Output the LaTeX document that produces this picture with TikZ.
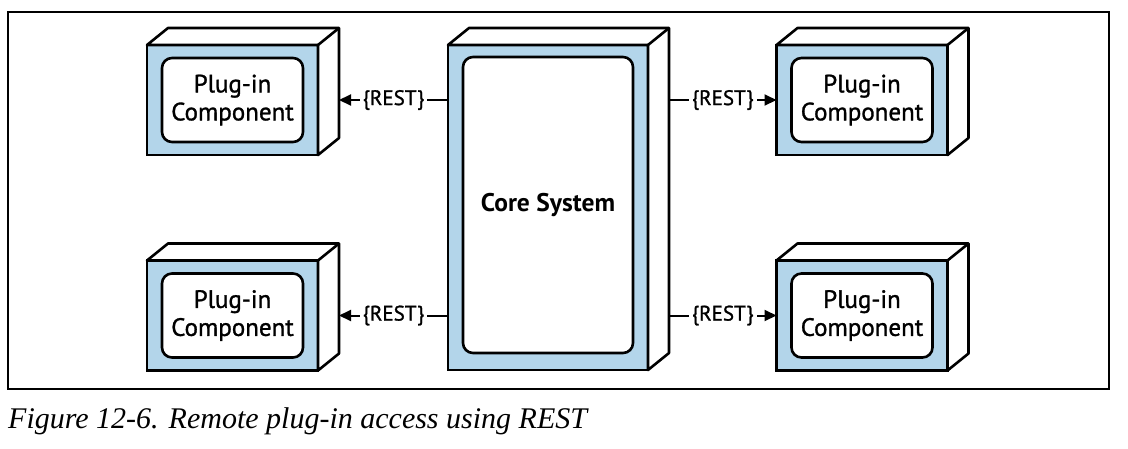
\documentclass[tikz,border=0pt]{standalone}
\usepackage{fontspec}
\setsansfont{PT Sans}
\newfontfamily\diafont{PT Sans}[FakeBold=1.2]
\setmainfont{Liberation Serif}
\usetikzlibrary{arrows.meta}

\definecolor{plugblue}{RGB}{179,213,234}
\newcommand\plugfont{\diafont\fontsize{25}{28}\selectfont}
\newcommand\restfont{\diafont\fontsize{21}{24}\selectfont}
\newcommand\corefont{\sffamily\bfseries\fontsize{25.5}{28}\selectfont}
\newcommand\capfont{\rmfamily\itshape\fontsize{30}{32}\selectfont}

% front face, inner panel and the two faces seen in depth
\newcommand\boxdepth[1]{%
  \draw[depth] (#1.north west) -- ++(21,-17) -- ([shift={(21,-17)}]#1.north east) -- ([shift={(21,-17)}]#1.south east) -- (#1.south east) -- (#1.north east) -- cycle;
  \draw[depth] (#1.north east) -- ++(21,-17);
}

\tikzset{
  front/.style={draw, line width=2.6pt, fill=plugblue, inner sep=0pt, outer sep=0pt, minimum width=171pt, minimum height=110pt},
  panel/.style={draw, line width=2.6pt, fill=white, rounded corners=10pt, inner sep=0pt, minimum width=141pt, minimum height=84pt, align=center, font=\plugfont},
  depth/.style={draw, line width=2.6pt, fill=white, line join=round},
  rest/.style={fill=white, inner sep=3pt, font=\restfont},
  link/.style={line width=2pt, -{Triangle[length=12pt,width=11pt]}},
}

\begin{document}
\begin{tikzpicture}[x=1pt,y=1pt,yscale=-1,xscale=1]
  \useasboundingbox (0,0) rectangle (1128,448);
  \draw[line width=1.3pt] (8,12) rectangle (1109,389);

  % plug-in components
  \node[front] (tl) at (232.5,100) {};
  \node[front] (bl) at (232.5,315.5) {};
  \node[front] (tr) at (862,100) {};
  \node[front] (br) at (862,315.5) {};
  \boxdepth{tl}
  \boxdepth{bl}
  \boxdepth{tr}
  \boxdepth{br}
  \node[panel] (tl-in) at (tl) {Plug-in\\Component};
  \node[panel] (bl-in) at (bl) {Plug-in\\Component};
  \node[panel] (tr-in) at (tr) {Plug-in\\Component};
  \node[panel] (br-in) at (br) {Plug-in\\Component};

  % core system
  \node[front, minimum width=200pt, minimum height=325pt] (core) at (548,207.5) {};
  \boxdepth{core}
  \node[panel, minimum width=170pt, minimum height=296pt, font=\corefont] (core-in) at (548,205) {Core System};

  % rest links
  \coordinate (tl-back) at ([xshift=21pt]tl.east);
  \coordinate (bl-back) at ([xshift=21pt]bl.east);
  \coordinate (core-back) at ([xshift=21pt]core.east);
  \draw[link] (core.west |- tl-back) -- node[rest] (rest-tl) {\{REST\}} (tl-back);
  \draw[link] (core.west |- bl-back) -- node[rest] (rest-bl) {\{REST\}} (bl-back);
  \draw[link] (core-back |- tr) -- node[rest] (rest-tr) {\{REST\}} (tr.west);
  \draw[link] (core-back |- br) -- node[rest] (rest-br) {\{REST\}} (br.west);

  \node[anchor=base west, inner sep=0pt, font=\capfont] (caption) at (8,428) {Figure 12-6. Remote plug-in access using REST};
\end{tikzpicture}
\end{document}
